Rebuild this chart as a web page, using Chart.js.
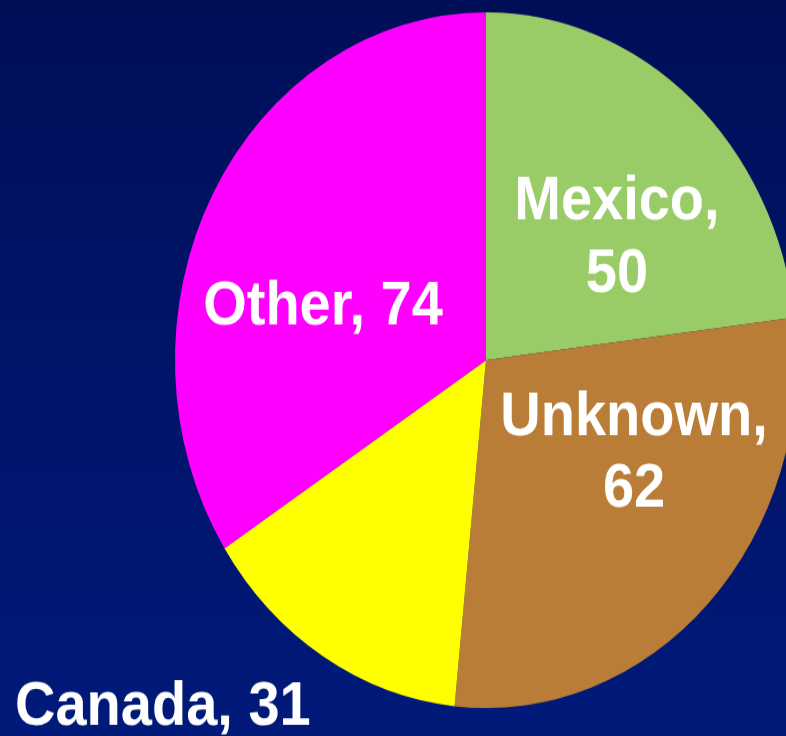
<!DOCTYPE html>
<html>
<head>
<meta charset="utf-8">
<script src="https://cdn.jsdelivr.net/npm/chart.js@4"></script>
<style>
    html, body {
        margin: 0;
        padding: 0;
        width: 786px;
        height: 736px;
        overflow: hidden;
        background: linear-gradient(to bottom, #000e58, #001a7a);
    }
    #wrap {
        width: 800px;
        height: 658px;
        transform-origin: 0 0;
        transform: scaleY(1.1185);
    }
</style>
</head>
<body>
<div id="wrap"><canvas id="pie" width="800" height="658"></canvas></div>
<script>
// data for the pie
const categories = ['Mexico', 'Unknown', 'Canada', 'Other'];
const counts = [50, 62, 31, 74];
const sliceColors = ['#99cc66', '#b97d37', '#ffff00', '#ff00ff'];

// label placement, relative to pie centre in units of radius
const labelSpots = [
    { dx: 0.421, dy: -0.404, split: true },
    { dx: 0.476, dy: 0.214, split: true },
    { dx: -1.039, dy: 1.048, split: false },
    { dx: -0.524, dy: -0.102, split: false }
];

const sliceLabels = {
    id: 'sliceLabels',
    afterDatasetsDraw(chart) {
        const ctx = chart.ctx;
        const arcs = chart.getDatasetMeta(0).data;
        const values = chart.data.datasets[0].data;
        const lineGap = 64.4;
        ctx.save();
        ctx.fillStyle = '#ffffff';
        ctx.font = 'bold 56px "Liberation Sans", Arial, sans-serif';
        ctx.textAlign = 'center';
        ctx.textBaseline = 'alphabetic';
        arcs.forEach((arc, i) => {
            const spot = labelSpots[i];
            const r = arc.outerRadius;
            const x = arc.x + spot.dx * r;
            const y = arc.y + spot.dy * r;
            const name = chart.data.labels[i] + ',';
            if (spot.split) {
                ctx.fillText(name, x, y);
                ctx.fillText(String(values[i]), x, y + lineGap);
            } else {
                ctx.fillText(name + ' ' + values[i], x, y);
            }
        });
        ctx.restore();
    }
};

new Chart(document.getElementById('pie').getContext('2d'), {
    type: 'pie',
    data: {
        labels: categories,
        datasets: [{
            data: counts,
            backgroundColor: sliceColors,
            borderWidth: 0
        }]
    },
    options: {
        responsive: false,
        animation: false,
        events: [],
        layout: {
            padding: { left: 175, right: 3, top: 11, bottom: 25 }
        },
        plugins: {
            legend: { display: false },
            tooltip: { enabled: false }
        }
    },
    plugins: [sliceLabels]
});
</script>
</body>
</html>
